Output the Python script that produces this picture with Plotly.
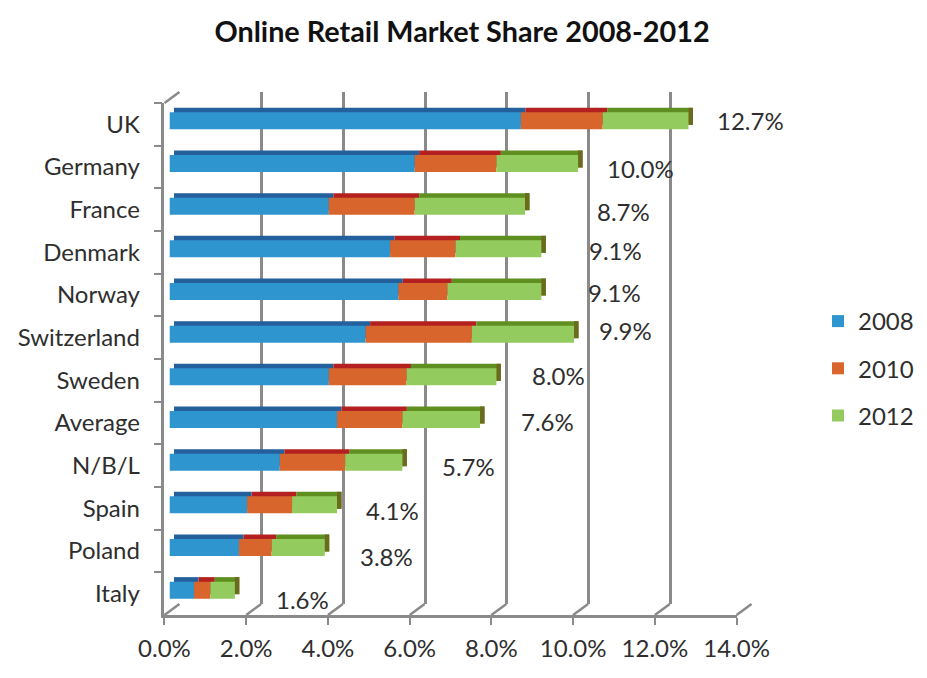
import plotly.graph_objects as go

countries = ["UK", "Germany", "France", "Denmark", "Norway", "Switzerland", "Sweden",
             "Average", "N/B/L", "Spain", "Poland", "Italy"]
share_2008 = [8.6, 6.0, 3.9, 5.4, 5.6, 4.8, 3.9, 4.1, 2.7, 1.9, 1.7, 0.6]
share_2010 = [10.6, 8.0, 6.0, 7.0, 6.8, 7.4, 5.8, 5.7, 4.3, 3.0, 2.5, 1.0]
share_2012 = [12.7, 10.0, 8.7, 9.1, 9.1, 9.9, 8.0, 7.6, 5.7, 4.1, 3.8, 1.6]
years = ["2008", "2010", "2012"]
x_ticks = [0, 2, 4, 6, 8, 10, 12, 14]
x_tick_labels = ["0.0%", "2.0%", "4.0%", "6.0%", "8.0%", "10.0%", "12.0%", "14.0%"]

# layout only: label offsets in pixels from each bar's end
label_dx = [62, 62, 99, 74, 73, 51, 62, 67, 66, 55, 62, 68]
label_dy = [0, 5, 5, 1.5, 1, -4, -1.5, 2, 4, 6, 8.5, 9]

# the page body has an 8px margin, so the figure sits 8px in from the window corner
PAGE = 8
W, H = 927 - 2 * PAGE, 678 - 2 * PAGE
FRONT = ["#2E95CF", "#D8652C", "#93CB5E"]
TOP = ["#24609C", "#B3201F", "#5F8F1E"]
CAP = "#6B6B1E"
GRID = "#8A8A8A"
TEXT = "#2E2E2E"
FONT = "Lato"


def px(x):
    return (x - PAGE) / W


def py(y):
    return 1 - (y - PAGE) / H


def fx(a, b):
    return [px(a), px(b)]


def fy(top, bottom):
    return [py(bottom), py(top)]


fig = go.Figure()
starts = [[0] * 12, share_2008, share_2010]
ends = [share_2008, share_2010, share_2012]
FRONT_L, FRONT_R = 165, 739
PX_PER_PCT = (FRONT_R - FRONT_L) / 14
DEPTH = 4.5
cap_w = DEPTH / PX_PER_PCT

# axes-holding transparent traces (back wall, front axes)
for suffix in ("", "2"):
    fig.add_trace(go.Bar(y=countries, x=share_2012, orientation="h", opacity=0, width=0.4,
                         showlegend=False, hoverinfo="skip", xaxis="x" + suffix, yaxis="y" + suffix))

# depth layer: top faces and right faces
for i in range(3):
    fig.add_trace(go.Bar(y=countries, x=[e - s for s, e in zip(starts[i], ends[i])], base=starts[i],
                         orientation="h", width=0.4, marker=dict(color=TOP[i], line_width=0),
                         showlegend=False, hoverinfo="skip", xaxis="x3", yaxis="y3"))
fig.add_trace(go.Bar(y=countries, x=[cap_w] * 12, base=[v - cap_w for v in share_2012], orientation="h",
                     width=0.4, marker=dict(color=CAP, line_width=0), showlegend=False,
                     hoverinfo="skip", xaxis="x3", yaxis="y3"))

# front faces
for i in range(3):
    fig.add_trace(go.Bar(y=countries, x=[e - s for s, e in zip(starts[i], ends[i])], base=starts[i],
                         orientation="h", width=0.4, name=years[i], legendgroup=years[i],
                         marker=dict(color=FRONT[i], line_width=0),
                         xaxis="x4", yaxis="y4"))

cat_common = dict(type="category", categoryorder="array", categoryarray=countries, range=[11.5, -0.5],
                  automargin=False)
x_common = dict(range=[0, 14], zeroline=False, tickmode="array", tickvals=x_ticks, automargin=False)
hidden = dict(showticklabels=False, ticks="", showline=False, showgrid=False)

fig.update_layout(
    width=W, height=H, margin=dict(l=0, r=0, t=0, b=0), autosize=False,
    paper_bgcolor="white", plot_bgcolor="rgba(0,0,0,0)",
    barmode="overlay", bargap=0.6,
    font=dict(family=FONT, color=TEXT, size=24),
    title=dict(text="<b>Online Retail Market Share 2008-2012</b>", x=px(462), xanchor="center",
               y=py(32), yanchor="middle", font=dict(size=28.8, color="#111111", family=FONT)),
    # back wall with the grid
    xaxis=dict(domain=fx(FRONT_L + 15, FRONT_R + 16), anchor="y", showgrid=True, gridcolor=GRID, gridwidth=2.5,
               showticklabels=False, ticks="", showline=False, **x_common),
    yaxis=dict(domain=fy(92, 604), anchor="x", **hidden, **cat_common),
    # front axes with labels
    xaxis2=dict(domain=fx(FRONT_L, FRONT_R), anchor="y2", showgrid=False, showline=True, linecolor=GRID, linewidth=2.5,
                ticks="outside", ticklen=7, tickwidth=2, tickcolor=GRID, ticktext=x_tick_labels,
                ticklabelstandoff=3, **x_common),
    yaxis2=dict(domain=fy(103, 615), anchor="x2", showgrid=False, showline=True, linecolor=GRID, linewidth=2.5,
                ticks="outside", ticklen=8, tickwidth=2, tickcolor=GRID, tickson="boundaries",
                ticklabelstandoff=17, **cat_common),
    # bars: depth layer and front layer
    xaxis3=dict(domain=fx(FRONT_L + 5 + DEPTH, FRONT_R + 5 + DEPTH), anchor="y3", **hidden, **x_common),
    yaxis3=dict(domain=fy(99.5 - DEPTH, 611.5 - DEPTH), anchor="x3", **hidden, **cat_common),
    xaxis4=dict(domain=fx(FRONT_L + 5, FRONT_R + 5), anchor="y4", **hidden, **x_common),
    yaxis4=dict(domain=fy(99.5, 611.5), anchor="x4", **hidden, **cat_common),
    legend=dict(x=px(821), y=py(299), xanchor="left", yanchor="top", traceorder="grouped",
                tracegroupgap=13, font=dict(size=24, color=TEXT), bgcolor="rgba(0,0,0,0)", borderwidth=0),
)

# floor connectors from the front axis to the back wall
shapes = []
for t in x_ticks:
    x0 = FRONT_L + PX_PER_PCT * t
    shapes.append(dict(type="line", xref="paper", yref="paper", x0=px(x0), x1=px(x0 + 15),
                       y0=py(615), y1=py(604), line=dict(color=GRID, width=2.5)))
shapes.append(dict(type="line", xref="paper", yref="paper", x0=px(FRONT_L), x1=px(FRONT_L + 15),
                   y0=py(103), y1=py(92), line=dict(color=GRID, width=2.5)))
fig.update_layout(shapes=shapes)

# total labels
for c, v, dx, dy in zip(countries, share_2012, label_dx, label_dy):
    fig.add_annotation(x=v, y=c, xref="x4", yref="y4", text=f"{v:.1f}%", showarrow=False,
                       xanchor="center", yanchor="middle", xshift=dx, yshift=-dy,
                       font=dict(size=24, color=TEXT, family=FONT))

fig.write_html("out.html")
